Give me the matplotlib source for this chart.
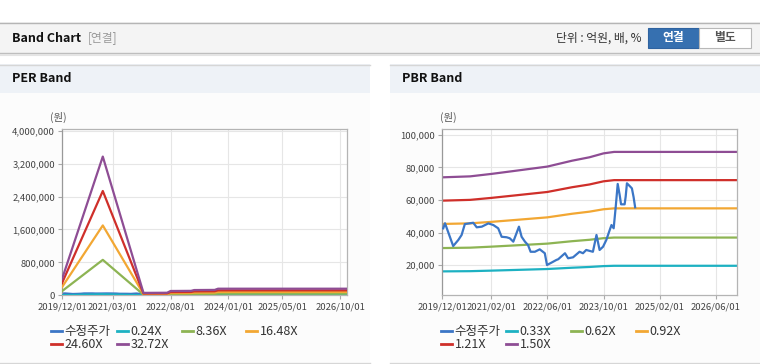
import matplotlib
matplotlib.use("Agg")
import matplotlib.pyplot as plt
import matplotlib.dates as mdates
from matplotlib.patches import Rectangle
from matplotlib.lines import Line2D
import pandas as pd

plt.rcParams['font.family'] = ['Noto Sans CJK KR', 'DejaVu Sans']

# ---- data ----
price_dates = ["2019-12-12", "2019-12-27", "2020-03-07", "2020-04-20", "2020-05-19",
               "2020-06-16", "2020-08-28", "2020-09-27", "2020-11-10", "2021-01-06",
               "2021-02-18", "2021-04-01", "2021-05-01", "2021-06-13", "2021-07-10",
               "2021-08-10", "2021-09-01", "2021-09-28", "2021-10-21", "2021-11-19",
               "2021-12-16", "2022-01-07", "2022-02-13", "2022-03-27", "2022-05-10",
               "2022-05-29", "2022-07-06", "2022-08-19", "2022-09-03", "2022-11-01",
               "2022-11-28", "2023-01-10", "2023-03-07", "2023-04-06", "2023-05-04",
               "2023-07-01", "2023-08-01", "2023-08-28", "2023-09-27", "2023-10-25",
               "2023-11-24", "2023-12-09", "2023-12-28", "2024-01-15", "2024-02-01",
               "2024-02-18", "2024-03-01", "2024-04-01", "2024-04-10", "2024-04-21",
               "2024-05-15", "2024-06-03", "2024-06-18", "2024-07-01"]
price = [42700, 45800, 31800, 35500, 38600,
         45300, 46100, 43300, 43700, 45700,
         44700, 42700, 37500, 37200, 36600,
         34500, 38600, 43700, 37500, 34500,
         32400, 28300, 28300, 29800, 27400,
         20200, 21600, 23300, 23700, 27400,
         24300, 24900, 28300, 27400, 29400,
         28300, 38600, 29400, 31400, 35500,
         41700, 44700, 42700, 56000, 69900,
         63100, 57400, 57400, 62100, 70300,
         68600, 67200, 61700, 55600]

eps_dates = ["2019-12-01", "2020-12-01", "2021-12-01", "2022-07-01", "2022-08-01",
             "2023-02-01", "2023-03-01", "2023-09-01", "2023-10-01", "2026-12-01"]
eps = [12000, 103000, 1800, 1900, 3200, 3300, 3900, 4000, 4900, 4900]
per_mult = [0.24, 8.36, 16.48, 24.60, 32.72]

bps_dates = ["2019-12-01", "2020-08-01", "2021-02-01", "2021-09-01", "2022-06-01",
             "2023-01-01", "2023-06-01", "2023-10-01", "2024-01-01", "2026-12-01"]
bps = [49300, 49700, 50700, 52000, 53700, 56100, 57500, 59100, 59700, 59700]
pbr_mult = [0.33, 0.62, 0.92, 1.21, 1.50]

per_ticks = ["2019-12-01", "2021-03-01", "2022-08-01", "2024-01-01", "2025-05-01", "2026-10-01"]
pbr_ticks = ["2019-12-01", "2021-02-01", "2022-06-01", "2023-10-01", "2025-02-01", "2026-06-01"]
per_yticks = [0, 800000, 1600000, 2400000, 3200000, 4000000]
pbr_yticks = [20000, 40000, 60000, 80000, 100000]

price_color = "#3b76c6"
band_colors = ["#1db1c2", "#8db453", "#f2a733", "#cf2f2a", "#8e4d94"]

W, H = 760, 364
fig = plt.figure(figsize=(W / 100, H / 100), dpi=100)
fig.patch.set_facecolor("white")

# background layer in pixel coordinates
bg = fig.add_axes([0, 0, 1, 1], zorder=-5)
bg.set_xlim(0, W)
bg.set_ylim(H, 0)
bg.axis("off")

# top bar
bg.add_patch(Rectangle((0, 22), W, 31, facecolor="#f4f4f4", edgecolor="none"))
bg.plot([0, W], [22.5, 22.5], color="#b5b5b5", lw=1)
bg.plot([0, W], [53, 53], color="#bdbdbd", lw=1)
bg.plot([0, W], [54.5, 54.5], color="#e4e4e4", lw=1.5)
bg.text(12, 38, "Band Chart", fontsize=9, fontweight="bold", color="#111", va="center")
bg.text(88, 38, "[연결]", fontsize=8.5, color="#999", va="center")
bg.text(641, 38, "단위 : 억원, 배, %", fontsize=8.5, color="#333", va="center", ha="right")
bg.add_patch(Rectangle((648, 28), 51, 20, facecolor="#3670b0", edgecolor="#2f63a0", lw=0.8))
bg.add_patch(Rectangle((699, 28), 52, 20, facecolor="white", edgecolor="#b8b8b8", lw=0.8))
bg.text(673.5, 38, "연결", fontsize=8.5, fontweight="bold", color="white", ha="center", va="center")
bg.text(725, 38, "별도", fontsize=8.5, fontweight="bold", color="#555", ha="center", va="center")

# panels
for px0, pw, title in [(0, 370, "PER Band"), (390, 370, "PBR Band")]:
    bg.add_patch(Rectangle((px0, 64), pw, 298, facecolor="#fcfcfc", edgecolor="none"))
    bg.add_patch(Rectangle((px0, 64), pw, 29, facecolor="#eef2f7", edgecolor="none"))
    bg.plot([px0, px0 + pw], [64.5, 64.5], color="#d6d6d6", lw=1)
    bg.plot([px0, px0 + pw], [362.5, 362.5], color="#d6d6d6", lw=1)
    bg.text(px0 + 12, 79, title, fontsize=9, fontweight="bold", color="#111", va="center")
    bg.text(px0 + 58, 117, "(원)", fontsize=7.5, color="#555", ha="center", va="center")


def make_axes(x0, x1, y0, y1):
    ax = fig.add_axes([x0 / W, 1 - y1 / H, (x1 - x0) / W, (y1 - y0) / H])
    ax.set_facecolor("white")
    for s in ax.spines.values():
        s.set_color("#b4b4b4")
        s.set_linewidth(0.9)
    ax.spines["left"].set_color("#999")
    ax.grid(True, color="#e6e6e6", lw=0.8)
    ax.set_axisbelow(True)
    ax.tick_params(labelsize=6.8, colors="#444", length=3, width=0.8, pad=2)
    ax.tick_params(axis="both", color="#aaa")
    return ax


def col_legends(handles, labels, xs, ytop):
    cols = [[0, 4], [1, 5], [2], [3]]
    for idx, x in zip(cols, xs):
        fig.legend([handles[i] for i in idx], [labels[i] for i in idx],
                   loc="upper left", bbox_to_anchor=(x / W, 1 - ytop / H),
                   frameon=False, fontsize=9, handlelength=0.85, handletextpad=0.25,
                   borderpad=0, borderaxespad=0, labelspacing=0.0,
                   labelcolor="#333")


xmin, xmax = pd.Timestamp("2019-12-01"), pd.Timestamp("2026-12-01")
pdates = pd.to_datetime(price_dates)

# ---- PER band ----
ax1 = make_axes(62, 347, 129, 295.3)
ax1.plot(pdates, price, color=price_color, lw=1.6, zorder=2)
ed = pd.to_datetime(eps_dates)
for m, c in zip(per_mult, band_colors):
    ax1.plot(ed, [m * e for e in eps], color=c, lw=1.6, zorder=3)
ax1.set_xlim(xmin, xmax)
ax1.set_ylim(0, 4040000)
ax1.set_yticks(per_yticks)
ax1.set_yticklabels([f"{v:,}" for v in per_yticks])
ax1.set_xticks(pd.to_datetime(per_ticks))
ax1.xaxis.set_major_formatter(mdates.DateFormatter("%Y/%m/%d"))

per_labels = ["수정주가"] + [f"{m:.2f}X" for m in per_mult]
handles = [Line2D([], [], color=c, lw=2) for c in [price_color] + band_colors]
col_legends(handles, per_labels, [51, 117, 182, 246], 325)

# ---- PBR band ----
ax2 = make_axes(442, 737, 129, 295.3)
bd = pd.to_datetime(bps_dates)
for m, c in zip(pbr_mult, band_colors):
    ax2.plot(bd, [m * b for b in bps], color=c, lw=1.6, zorder=2)
ax2.plot(pdates, price, color=price_color, lw=1.6, zorder=3)
ax2.set_xlim(xmin, xmax)
ax2.set_ylim(1600, 103600)
ax2.set_yticks(pbr_yticks)
ax2.set_yticklabels([f"{v:,}" for v in pbr_yticks])
ax2.set_xticks(pd.to_datetime(pbr_ticks))
ax2.xaxis.set_major_formatter(mdates.DateFormatter("%Y/%m/%d"))

pbr_labels = ["수정주가"] + [f"{m:.2f}X" for m in pbr_mult]
col_legends(handles, pbr_labels, [441, 506, 571, 636], 325)

fig.savefig("out.png", dpi=100)
